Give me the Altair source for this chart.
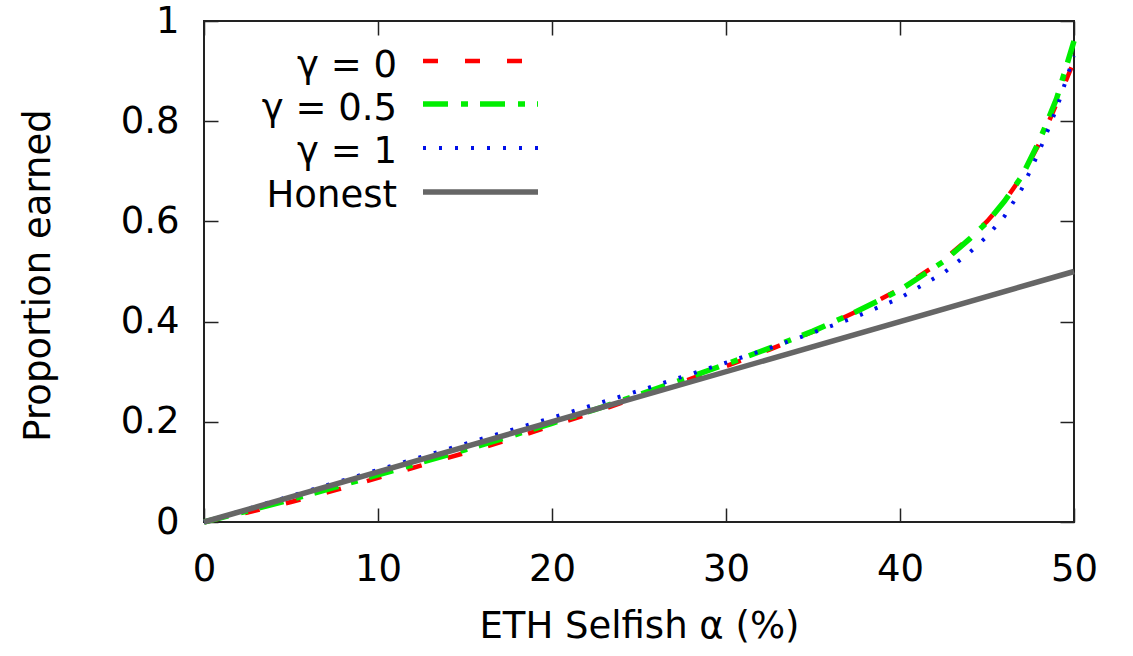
import altair as alt
import pandas as pd

# ---- data ----
alpha = [0, 2.5, 5, 7.5, 10, 12.5, 15, 17.5, 20, 22.5, 25, 27.5, 30, 32.5, 35,
         37.5, 40, 42.5, 44, 45, 46, 47, 48, 49, 50]
gamma_0 = [0, 0.019, 0.040, 0.063, 0.088, 0.113, 0.138, 0.164, 0.192, 0.220, 0.250,
           0.280, 0.311, 0.344, 0.380, 0.420, 0.465, 0.523, 0.567, 0.600, 0.640,
           0.690, 0.755, 0.835, 0.920]
gamma_05 = [0, 0.022, 0.045, 0.069, 0.094, 0.119, 0.144, 0.170, 0.197, 0.225, 0.254,
            0.284, 0.315, 0.347, 0.381, 0.420, 0.463, 0.520, 0.565, 0.598, 0.640,
            0.690, 0.760, 0.845, 0.960]
gamma_1 = [0, 0.026, 0.052, 0.078, 0.104, 0.130, 0.156, 0.182, 0.208, 0.235, 0.262,
           0.290, 0.318, 0.347, 0.378, 0.410, 0.447, 0.497, 0.538, 0.570, 0.610,
           0.665, 0.740, 0.825, 0.930]
honest_alpha = [0, 50]
honest = [0, 0.5]

legend_labels = ["γ = 0", "γ = 0.5", "γ = 1", "Honest"]
x_ticks = [0, 10, 20, 30, 40, 50]
y_ticks = [0, 0.2, 0.4, 0.6, 0.8, 1]

FONT = "DejaVu Sans"
FS = 37
TICK = 14
TCOL = "#222222"

df0 = pd.DataFrame({"a": alpha, "v": gamma_0})
df05 = pd.DataFrame({"a": alpha, "v": gamma_05})
df1 = pd.DataFrame({"a": alpha, "v": gamma_1})
dfh = pd.DataFrame({"a": honest_alpha, "v": honest})

xs = alt.Scale(domain=[0, 50], nice=False, zero=False)
ys = alt.Scale(domain=[0, 1], nice=False)

x_bottom = alt.Axis(orient="bottom", values=x_ticks, offset=-TICK, tickSize=TICK,
                    tickWidth=1.5, tickColor=TCOL, domain=False, grid=False,
                    labelPadding=29, labelFont=FONT, labelFontSize=FS, labelColor="black",
                    labelFlush=False, labelOverlap=False,
                    title="ETH Selfish α (%)", titleFont=FONT, titleFontSize=FS,
                    titleFontWeight="normal", titleColor="black",
                    titleBaseline="alphabetic", titleY=129)
y_left = alt.Axis(orient="left", values=y_ticks, offset=-TICK, tickSize=TICK,
                  tickWidth=1.5, tickColor=TCOL, domain=False, grid=False,
                  labelPadding=25, labelFont=FONT, labelFontSize=FS, labelColor="black",
                  labelFlush=False, labelOverlap=False, format="~g",
                  title="Proportion earned", titleFont=FONT, titleFontSize=FS,
                  titleFontWeight="normal", titleColor="black", titleAngle=270,
                  titleBaseline="alphabetic", titleX=-169, titleY=254)
x_top = alt.Axis(orient="top", values=x_ticks, offset=-TICK, tickSize=TICK,
                 tickWidth=1.5, tickColor=TCOL, domain=False, grid=False,
                 labels=False, title=None)
y_right = alt.Axis(orient="right", values=y_ticks, offset=-TICK, tickSize=TICK,
                   tickWidth=1.5, tickColor=TCOL, domain=False, grid=False,
                   labels=False, title=None)

red = alt.Chart(df0).mark_line(color="#ff0000", strokeWidth=4.5, strokeDash=[15, 27],
                               strokeCap="butt").encode(
    x=alt.X("a:Q", scale=xs, axis=x_bottom),
    y=alt.Y("v:Q", scale=ys, axis=y_left))
green = alt.Chart(df05).mark_line(color="#00ee00", strokeWidth=5.5,
                                  strokeDash=[25, 13, 7, 12], strokeCap="butt").encode(
    x=alt.X("a:Q", scale=xs, axis=None),
    y=alt.Y("v:Q", scale=ys, axis=None))
blue = alt.Chart(df1).mark_line(color="#0010e8", strokeWidth=4, strokeDash=[3, 13],
                                strokeCap="butt").encode(
    x=alt.X("a:Q", scale=xs, axis=None),
    y=alt.Y("v:Q", scale=ys, axis=None))
gray = alt.Chart(dfh).mark_line(color="#666666", strokeWidth=5.5).encode(
    x=alt.X("a:Q", scale=xs, axis=x_top),
    y=alt.Y("v:Q", scale=ys, axis=y_right))

# ---- legend (placed in plot pixels, top-left inside the frame) ----
styles = [
    dict(color="#ff0000", strokeWidth=4.5, strokeDash=[15, 27]),
    dict(color="#00ee00", strokeWidth=5.5, strokeDash=[25, 13, 7, 12]),
    dict(color="#0010e8", strokeWidth=4, strokeDash=[3, 13]),
    dict(color="#666666", strokeWidth=5.5, strokeDash=[1, 0]),
]
row_line_y = [40, 83, 127, 171]
row_text_y = [56, 99, 142, 186]
legend_layers = []
for lab, st, ly, ty in zip(legend_labels, styles, row_line_y, row_text_y):
    d = pd.DataFrame({"label": [lab]})
    legend_layers.append(
        alt.Chart(d).mark_rule(strokeCap="butt", **st).encode(
            x=alt.value(219), x2=alt.value(334), y=alt.value(ly)))
    legend_layers.append(
        alt.Chart(d).mark_text(align="right", baseline="alphabetic", font=FONT,
                               fontSize=FS, color="black").encode(
            x=alt.value(193), y=alt.value(ty), text="label:N"))

chart = alt.layer(red, green, blue, gray, *legend_layers).resolve_axis(
    x="independent", y="independent"
).properties(
    width=870, height=501,
    autosize=alt.AutoSizeParams(type="none"),
    padding={"left": 204, "top": 21, "right": 59, "bottom": 134},
).configure_view(stroke=TCOL, strokeWidth=2)

chart.save("out.html", embed_options={"renderer": "svg", "actions": False})
